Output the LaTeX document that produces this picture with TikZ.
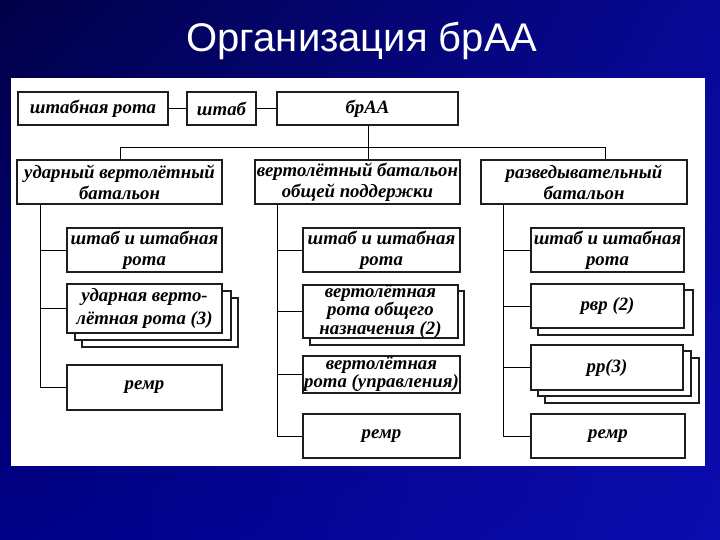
\documentclass[tikz,border=0pt]{standalone}
\usepackage{fontspec}
\usetikzlibrary{shadings}
\setmainfont{Liberation Serif}
\newfontfamily\titlefont{Liberation Sans}
\definecolor{bgA}{RGB}{0,0,72}
\definecolor{bgB}{RGB}{8,8,150}
\definecolor{bgC}{RGB}{0,0,135}
\definecolor{bgD}{RGB}{12,12,175}
\definecolor{edge}{RGB}{30,30,30}
\tikzset{
  bx/.style={draw=edge, line width=1.3pt, fill=white, inner sep=0pt, align=center,
    font=\fontsize{18.8}{21}\selectfont\bfseries\itshape},
  sh/.style={draw=edge, line width=1.3pt, fill=white, inner sep=0pt},
  ln/.style={draw=black, line width=1pt},
}
\newcommand\Bx[7][bx]{\node[#1,minimum width=#5pt-#3pt,minimum height=#6pt-#4pt] (#2) at ({(#3+#5)/2},{(#4+#6)/2}) {#7};}
\begin{document}
\begin{tikzpicture}[x=1pt,y=-1pt]
\useasboundingbox (0,0) rectangle (720,540);
\shade[upper left=bgA, upper right=bgB, lower left=bgC, lower right=bgD] (0,0) rectangle (720,540);
\node[text=white, font=\titlefont\fontsize{40}{42}\selectfont, anchor=base] (title) at (362,52) {Организация брАА};
\node[fill=white, inner sep=0pt, minimum width=694pt, minimum height=388pt] (panel) at (358,272) {};
% top row
\Bx{shr}{18}{92}{168}{125}{штабная рота}
\Bx{sht}{187}{92}{256}{125}{штаб}
\Bx{br}{277}{92}{458}{125}{брАА}
% battalions
\Bx{b1}{17}{160}{222}{204}{ударный вертолётный\\батальон}
\Bx{b2}{255}{160}{460}{204}{вертолётный батальон\\общей поддержки}
\Bx{b3}{481}{160}{687}{204}{разведывательный\\батальон}
% column 1
\Bx{c11}{67}{228}{222}{272}{штаб и штабная\\рота}
\Bx[sh]{c12c}{82}{298}{238}{347}{}
\Bx[sh]{c12b}{75}{291}{231}{340}{}
\Bx[bx,font=\fontsize{18.8}{23}\selectfont\bfseries\itshape]{c12}{67}{284}{222}{333}{ударная верто-\\лётная рота (3)}
\Bx{c13}{67}{365}{222}{410}{ремр}
% column 2
\Bx{c21}{303}{228}{460}{272}{штаб и штабная\\рота}
\Bx[sh]{c22b}{310}{291}{464}{345}{}
\Bx[bx,font=\fontsize{18.8}{15.5}\selectfont\bfseries\itshape]{c22}{303}{285}{458}{338}{вертолётная\\рота общего\\назначения (2)}
\Bx[bx,font=\fontsize{18.8}{18}\selectfont\bfseries\itshape]{c23}{303}{356}{460}{393}{вертолётная\\рота (управления)}
\Bx{c24}{303}{414}{460}{458}{ремр}
% column 3
\Bx{c31}{531}{228}{684}{272}{штаб и штабная\\рота}
\Bx[sh]{c32b}{538}{290}{693}{335}{}
\Bx{c32}{531}{284}{684}{328}{рвр (2)}
\Bx[sh]{c33c}{545}{358}{699}{403}{}
\Bx[sh]{c33b}{538}{351}{691}{396}{}
\Bx{c33}{531}{345}{683}{390}{рр(3)}
\Bx{c34}{531}{414}{685}{458}{ремр}
% connectors
\draw[ln] (shr.east) -- (sht.west);
\draw[ln] (sht.east) -- (br.west);
\coordinate (hub) at (368,148);
\coordinate (h1) at (120,148);
\coordinate (h3) at (605,148);
\draw[ln] (br.south -| hub) -- (b2.north -| hub);
\draw[ln] (b1.north -| h1) -- (h1) -- (h3) -- (b3.north -| h3);
\coordinate (v1) at (40,204);
\coordinate (v2) at (277,204);
\coordinate (v3) at (503,204);
\draw[ln] (b1.south -| v1) -- (v1 |- c13.west) -- (c13.west);
\draw[ln] (v1 |- c11.west) -- (c11.west);
\draw[ln] (v1 |- c12.west) -- (c12.west);
\draw[ln] (b2.south -| v2) -- (v2 |- c24.west) -- (c24.west);
\draw[ln] (v2 |- c21.west) -- (c21.west);
\draw[ln] (v2 |- c22.west) -- (c22.west);
\draw[ln] (v2 |- c23.west) -- (c23.west);
\draw[ln] (b3.south -| v3) -- (v3 |- c34.west) -- (c34.west);
\draw[ln] (v3 |- c31.west) -- (c31.west);
\draw[ln] (v3 |- c32.west) -- (c32.west);
\draw[ln] (v3 |- c33.west) -- (c33.west);
\end{tikzpicture}
\end{document}
